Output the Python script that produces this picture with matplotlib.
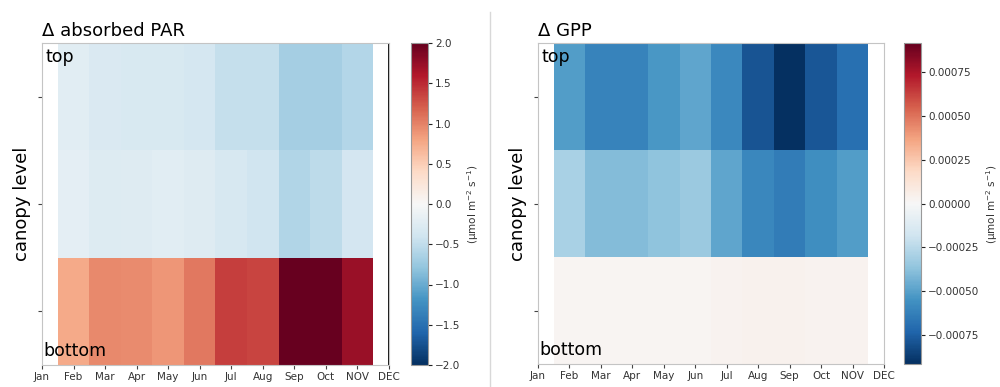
import numpy as np
import matplotlib
matplotlib.use("Agg")
import matplotlib.pyplot as plt
from matplotlib.lines import Line2D

month_labels = ['Jan', 'Feb', 'Mar', 'Apr', 'May', 'Jun', 'Jul', 'Aug', 'Sep', 'Oct', 'NOV', 'DEC']
data_months = [1, 2, 3, 4, 5, 6, 7, 8, 9, 10]  # Feb .. Nov

par_top = [-0.22, -0.31, -0.32, -0.32, -0.35, -0.47, -0.47, -0.68, -0.68, -0.58]
par_mid = [-0.20, -0.27, -0.26, -0.22, -0.26, -0.33, -0.40, -0.60, -0.52, -0.37]
par_bot = [0.75, 0.96, 0.95, 0.88, 1.05, 1.38, 1.35, 2.05, 2.05, 1.73]

gpp_top = [-0.00051, -0.00061, -0.00061, -0.00053, -0.00048, -0.00059, -0.00079, -0.000915, -0.00078, -0.00069]
gpp_mid = [-0.00030, -0.00040, -0.00040, -0.00037, -0.00034, -0.00048, -0.00060, -0.00064, -0.00057, -0.00051]
gpp_bot = [0.00002, 0.00002, 0.00002, 0.00002, 0.00002, 0.00003, 0.00004, 0.00004, 0.00003, 0.00003]

par_ticks = [-2.0, -1.5, -1.0, -0.5, 0.0, 0.5, 1.0, 1.5, 2.0]
gpp_ticks = [-0.00075, -0.0005, -0.00025, 0.0, 0.00025, 0.0005, 0.00075]
gpp_lim = 0.000915

W, H = 1000, 387
fig = plt.figure(figsize=(W / 100, H / 100), dpi=100)

def px(x0, y0, x1, y1):
    return [x0 / W, 1 - y1 / H, (x1 - x0) / W, (y1 - y0) / H]

spine_c = '#c4c4c4'
tick_c = '#444444'

def panel(ax_rect, cb_rect, rows, vmin, vmax, title, cticks, cfmt, black_right, cb_label_x):
    ax = fig.add_axes(px(*ax_rect))
    arr = np.array(rows)
    xe = np.arange(len(data_months) + 1) + 0.5
    ye = np.arange(arr.shape[0] + 1)
    m = ax.pcolormesh(xe, ye, arr, cmap='RdBu_r', vmin=vmin, vmax=vmax, shading='flat')
    ax.set_xlim(0, 11)
    ax.set_ylim(0, 3)
    ax.set_xticks(range(12))
    ax.set_xticklabels(month_labels, fontsize=7.5, color='#333333')
    ax.set_yticks([0.5, 1.5, 2.5])
    ax.set_yticklabels([])
    ax.tick_params(axis='both', length=3, color=tick_c, pad=2)
    for s in ax.spines.values():
        s.set_color(spine_c)
    if black_right:
        ax.axvline(11, color='black', lw=1.3)
    ax.set_ylabel('canopy level', fontsize=13, labelpad=3)
    ax.set_title(title, loc='left', fontsize=13, pad=5)
    ax.text(0.01, 0.955, 'top', transform=ax.transAxes, fontsize=12.5, va='center', ha='left')
    ax.text(0.005, 0.045, 'bottom', transform=ax.transAxes, fontsize=12.5, va='center', ha='left')
    cax = fig.add_axes(px(*cb_rect))
    cb = fig.colorbar(m, cax=cax, ticks=cticks)
    cb.ax.set_yticklabels([cfmt(t) for t in cticks], fontsize=7.5, color='#333333')
    cb.ax.tick_params(length=3, color='#222222', pad=2)
    cb.outline.set_edgecolor('#999999')
    fig.text(cb_label_x, 1 - 204 / H, '(\u03bcmol m$^{-2}$ s$^{-1}$)', rotation=90,
             fontsize=7.5, va='center', ha='center', color='#333333')
    return ax

def fmt_par(t):
    return f'{t:.1f}'.replace('-', '\u2212')

def fmt_gpp(t):
    return f'{t:.5f}'.replace('-', '\u2212')

panel((42, 43, 389, 365), (411, 43, 428, 365), [par_bot, par_mid, par_top], -2, 2,
      '\u0394 absorbed PAR', par_ticks, fmt_par, True, 473 / W)
panel((538, 43, 884, 364), (904, 43, 921, 364), [gpp_bot, gpp_mid, gpp_top], -gpp_lim, gpp_lim,
      '\u0394 GPP', gpp_ticks, fmt_gpp, False, 992 / W)

fig.add_artist(Line2D([490 / W, 490 / W], [0, 1 - 12 / H], color='#d8d8d8', lw=1))

fig.savefig('out.png', dpi=100)
